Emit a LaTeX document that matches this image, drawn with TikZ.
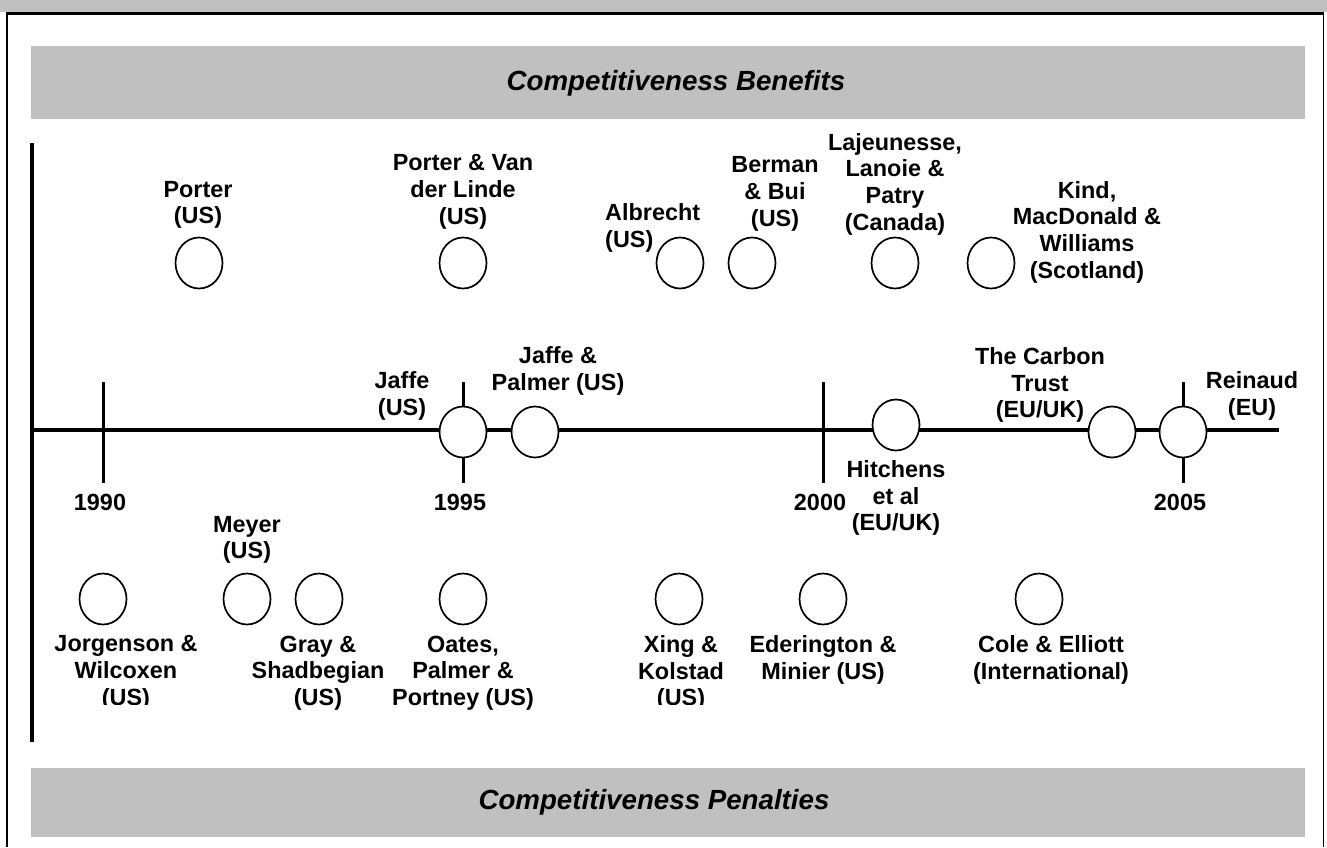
\documentclass[tikz,border=0pt]{standalone}
\usepackage{fontspec}
\setmainfont{Liberation Sans}
\usetikzlibrary{shapes.geometric}
\definecolor{bandgray}{RGB}{192,192,192}
\tikzset{
  study/.style={draw,ellipse,line width=1.7pt,fill=white,minimum width=47pt,minimum height=51pt,inner sep=0pt},
  who/.style={font=\bfseries\fontsize{23.4}{26.7}\selectfont,align=center,inner sep=0pt},
  year/.style={font=\bfseries\fontsize{23.4}{26.7}\selectfont,inner sep=0pt},
  bandtitle/.style={font=\bfseries\itshape\fontsize{27.7}{30}\selectfont,inner sep=0pt}
}
\begin{document}
\begin{tikzpicture}[x=1pt,y=-1pt,line join=round]
  \def\ty{430} \def\yup{263} \def\ydown{599}
  \useasboundingbox (0,0) rectangle (1327,847);
  % frame
  \fill[bandgray] (0,0) rectangle (1327,12);
  \draw[line width=2.7pt] (5.5,13.5) -- (1323.5,13.5);
  \draw[line width=2pt] (6.5,13) -- (6.5,847);
  \draw[line width=1.5pt] (1323.5,13) -- (1323.5,847);
  % bands
  \fill[bandgray] (31,46) rectangle (1305,119);
  \fill[bandgray] (31,768) rectangle (1305,837);
  \node[bandtitle] (benefits) at (676,83) {Competitiveness Benefits};
  \node[bandtitle] (penalties) at (654,802) {Competitiveness Penalties};
  % axes
  \coordinate (axtop) at (32,143);
  \coordinate (axbot) at (32,742);
  \coordinate (tlstart) at (32,\ty);
  \coordinate (tlend) at (1279,\ty);
  \draw[line width=3.5pt] (axtop) -- (axbot);
  \draw[line width=3.3pt] (tlstart) -- (tlend);
  \foreach \yr/\x in {1990/103,1995/463,2000/823,2005/1183}{
    \coordinate (t\yr) at (\x,\ty);
    \draw[line width=3pt] (t\yr) ++(0,-48) -- ++(0,101);
    \node[year] (l\yr) at (\x-3,502) {\yr};
  }
  % benefits
  \node[study] (porter) at (199,\yup) {};
  \node[study] (pvdl) at (463,\yup) {};
  \node[study] (albrecht) at (680,\yup) {};
  \node[study] (berman) at (752,\yup) {};
  \node[study] (lajeunesse) at (895,\yup) {};
  \node[study] (kind) at (991,\yup) {};
  \node[who] (porterl) at (198,205) {Porter\\(US)};
  \node[who] (pvdll) at (463,192) {Porter \& Van\\der Linde\\(US)};
  \node[who,align=left,anchor=west] (albrechtl) at (605,228) {Albrecht\\(US)};
  \node[who] (bermanl) at (775,194) {Berman\\\& Bui\\(US)};
  \node[who] (lajeunessel) at (895,184) {Lajeunesse,\\Lanoie \&\\Patry\\(Canada)};
  \node[who] (kindl) at (1087,232) {Kind,\\MacDonald \&\\Williams\\(Scotland)};
  % on the line
  \node[study] (jaffe) at (463,432) {};
  \node[study] (jaffepalmer) at (535,432) {};
  \node[study] (hitchens) at (896,425) {};
  \node[study] (carbon) at (1112,432) {};
  \node[study] (reinaud) at (1183,432) {};
  \node[who] (jaffel) at (402,396) {Jaffe\\(US)};
  \node[who] (jaffepalmerl) at (558,371) {Jaffe \&\\Palmer (US)};
  \node[who] (hitchensl) at (896,498) {Hitchens\\et al\\(EU/UK)};
  \node[who] (carbonl) at (1040,385) {The Carbon\\Trust\\(EU/UK)};
  \node[who] (reinaudl) at (1252,396) {Reinaud\\(EU)};
  % penalties
  \node[study] (jorgenson) at (103,\ydown) {};
  \node[study] (meyer) at (247,\ydown) {};
  \node[study] (gray) at (319,\ydown) {};
  \node[study] (oates) at (463,\ydown) {};
  \node[study] (xing) at (679,\ydown) {};
  \node[study] (ederington) at (823,\ydown) {};
  \node[study] (cole) at (1039,\ydown) {};
  \node[who] (meyerl) at (247,540) {Meyer\\(US)};
  \node[who] (grayl) at (318,673) {Gray \&\\Shadbegian\\(US)};
  \node[who] (oatesl) at (463,673) {Oates,\\Palmer \&\\Portney (US)};
  \node[who] (ederingtonl) at (823,660) {Ederington \&\\Minier (US)};
  \node[who] (colel) at (1051,660) {Cole \& Elliott\\(International)};
  \begin{scope}
    \clip (0,0) rectangle (1327,704);
    \node[who] (jorgensonl) at (126,673) {Jorgenson \&\\Wilcoxen\\(US)};
    \node[who] (xingl) at (681,673) {Xing \&\\Kolstad\\(US)};
  \end{scope}
\end{tikzpicture}
\end{document}
